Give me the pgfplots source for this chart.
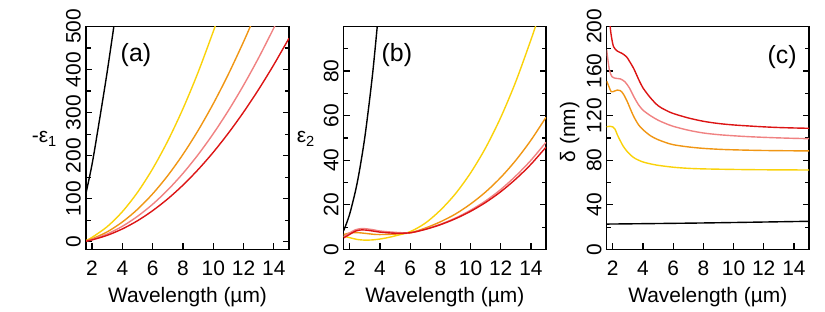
\documentclass[border=0pt]{standalone}
\usepackage{graphicx}
\usepackage{pgfplots}
\pgfplotsset{compat=1.18}
\usepackage{fontspec}
\setmainfont{Liberation Sans}
\definecolor{cred}{RGB}{220,20,20}
\definecolor{cpink}{RGB}{240,130,130}
\definecolor{corange}{RGB}{240,150,20}
\definecolor{cyellow}{RGB}{250,210,10}
\tikzset{plabel/.style={font=\fontsize{25}{25}\selectfont}}
\pgfplotsset{
  panel/.style={
    scale only axis, height=223bp, anchor=south west,
    xmin=1.6, xmax=15, xtick={2,4,...,14},
    xtick pos=bottom, ytick pos=both, yticklabel pos=left,
    tick align=inside,
    axis line style={line width=1.5bp},
    every tick/.style={line width=1.2bp, black},
    major tick length=6bp, minor tick length=4.5bp,
    /pgf/number format/assume math mode=true,
    tick label style={font=\fontsize{21}{21}\selectfont},
    xticklabel style={anchor=base, yshift=-25.5bp},
    yticklabel={\rotatebox{90}{\pgfmathprintnumber{\tick}}},
    yticklabel style={anchor=east, inner sep=0pt, xshift=-5bp},
    xlabel={Wavelength (µm)},
    xlabel style={at={(axis description cs:0.5,-0.236)}, anchor=base, font=\fontsize{21}{21}\selectfont},
    ylabel style={font=\fontsize{21}{21}\selectfont, inner sep=0pt},
    every axis plot/.append style={line width=1.4bp, no marks, smooth},
    clip=true,
  },
}
\begin{document}
\begin{tikzpicture}
\path[use as bounding box] (0bp,0bp) rectangle (825bp,312bp);
% ---------------- (a)
\begin{axis}[panel, at={(86bp,62.5bp)}, width=203bp,
  ymin=-18, ymax=500, ytick={0,100,...,500}, minor ytick={50,150,...,450},
  ylabel={-ε\textsubscript{1}},
  ylabel style={rotate=-90, at={(axis description cs:-0.2675,0.4776)}, anchor=base west}]
\addplot[black] coordinates {(1.55,105) (2.0,180) (2.5,285) (3.0,395) (3.5,515)};
\addplot[cyellow] coordinates {(1.6,3.0) (2,10.2) (3,35.1) (4,69.9) (5,114.7) (6,169.5) (7,234.3) (8,309.0) (9,393.6) (10,488.2) (10.3,518.6)};
\addplot[corange] coordinates {(1.6,2.0) (2,6.7) (3,23.0) (4,45.9) (5,75.3) (6,111.3) (7,153.8) (8,202.9) (9,258.5) (10,320.6) (11,389.3) (12,464.5) (12.6,512.7)};
\addplot[cpink] coordinates {(1.6,1.5) (2,5.2) (3,18.0) (4,35.9) (5,59.0) (6,87.1) (7,120.4) (8,158.8) (9,202.3) (10,251.0) (11,304.7) (12,363.6) (13,427.6) (14,496.7) (14.2,511.2)};
\addplot[cred] coordinates {(1.6,1.3) (2,4.3) (3,14.9) (4,29.8) (5,48.8) (6,72.2) (7,99.7) (8,131.5) (9,167.6) (10,207.8) (11,252.4) (12,301.1) (13,354.1) (14,411.4) (15,472.8)};
\node[plabel] at (axis description cs:0.246,0.87) {(a)};
\end{axis}
% ---------------- (b)
\begin{axis}[panel, at={(343.7bp,62.5bp)}, width=202.3bp,
  ymin=0, ymax=100, ytick={0,20,...,80}, minor ytick={10,30,...,90},
  ylabel={ε\textsubscript{2}},
  ylabel style={rotate=-90, at={(axis description cs:-0.2323,0.4776)}, anchor=base west}]
\addplot[black] coordinates {(1.6,8.5) (2.0,16.0) (2.5,30.1) (3.0,50.4) (3.5,77.9) (3.85,102.1)};
\addplot[cyellow] coordinates {(1.6,6.0) (2.0,5.3) (2.5,4.5) (3.0,4.2) (3.5,4.3) (4.0,4.7) (4.5,5.3) (5.0,6.1) (6,8) (7,11.8) (8,17.6) (9,25) (10,34.3) (11,45.6) (12,59.2) (13,75.3) (14,94) (14.5,104)};
\addplot[corange] coordinates {(1.6,6.7) (2.0,7.4) (2.4,7.6) (2.8,7.4) (3.2,7.1) (3.6,6.8) (4,6.7) (5,6.9) (6,7.5) (7,9.6) (8,12.4) (9,15.9) (10,20.4) (11,25.8) (12,32.3) (13,40.0) (14,49.0) (15,59.3)};
\addplot[cpink] coordinates {(1.6,5.8) (2.0,7.5) (2.4,8.9) (2.8,9.4) (3.2,9.2) (3.6,8.8) (4,8.3) (5,7.7) (6,7.5) (7,9.1) (8,11.3) (9,14.1) (10,17.6) (11,21.8) (12,26.9) (13,33.0) (14,40.0) (15,48.1)};
\addplot[cred] coordinates {(1.6,5.2) (2.0,6.8) (2.4,8.3) (2.8,8.8) (3.2,8.6) (3.6,8.2) (4,7.8) (5,7.3) (6,7.5) (7,9.0) (8,11.1) (9,13.8) (10,17.1) (11,21.1) (12,25.9) (13,31.6) (14,38.2) (15,45.9)};
\node[plabel] at (axis description cs:0.263,0.874) {(b)};
\end{axis}
% ---------------- (c)
\begin{axis}[panel, at={(606.7bp,62.5bp)}, width=202.3bp,
  ymin=0, ymax=200, ytick={0,40,...,200}, minor ytick={20,60,...,180},
  ylabel={δ (nm)},
  ylabel style={at={(axis description cs:-0.1566,0.527)}, anchor=base}]
\addplot[black] coordinates {(1.6,22.8) (8,23.8) (15,25.3)};
\addplot[cyellow] coordinates {(1.6,110) (1.8,110.5) (2.0,110) (2.15,108) (2.3,103) (2.5,97.5) (2.7,92.5) (2.95,88) (3.2,84.5) (3.5,81.5) (4,78.5) (4.5,76.8) (5,75.5) (6,73.8) (7,72.8) (8,72.3) (10,71.8) (12,71.5) (15,71.3)};
\addplot[corange] coordinates {(1.6,151) (1.75,146) (1.9,141.5) (2.1,142) (2.3,143) (2.5,142.5) (2.7,139.5) (2.95,133) (3.2,125) (3.4,119) (3.7,112) (4.0,107.5) (4.5,102) (5,98.5) (5.5,96) (6,94) (7,92) (8,90.7) (9,89.9) (10,89.4) (12,88.8) (15,88.4)};
\addplot[cpink] coordinates {(1.6,179) (1.7,168) (1.8,160) (1.95,155) (2.2,153.5) (2.5,153) (2.8,150.5) (3.1,145) (3.4,137) (3.7,130) (4.0,125) (4.5,120) (5,116) (5.5,113) (6,110.5) (7,107) (8,104.5) (9,103) (10,102) (11,101.2) (12,100.6) (13,100.1) (14,99.7) (15,99.4)};
\addplot[cred] coordinates {(1.75,215) (1.83,200) (1.9,192) (2.05,182) (2.3,178) (2.6,176) (2.9,173) (3.1,169) (3.4,162) (3.7,153) (4.0,145) (4.5,136) (5.0,129) (5.5,125) (6,122) (7,118) (8,115) (9,113) (10,111.7) (11,110.8) (12,110) (13,109.4) (14,109) (15,108.7)};
\node[plabel] at (axis description cs:0.867,0.865) {(c)};
\end{axis}
\end{tikzpicture}
\end{document}
